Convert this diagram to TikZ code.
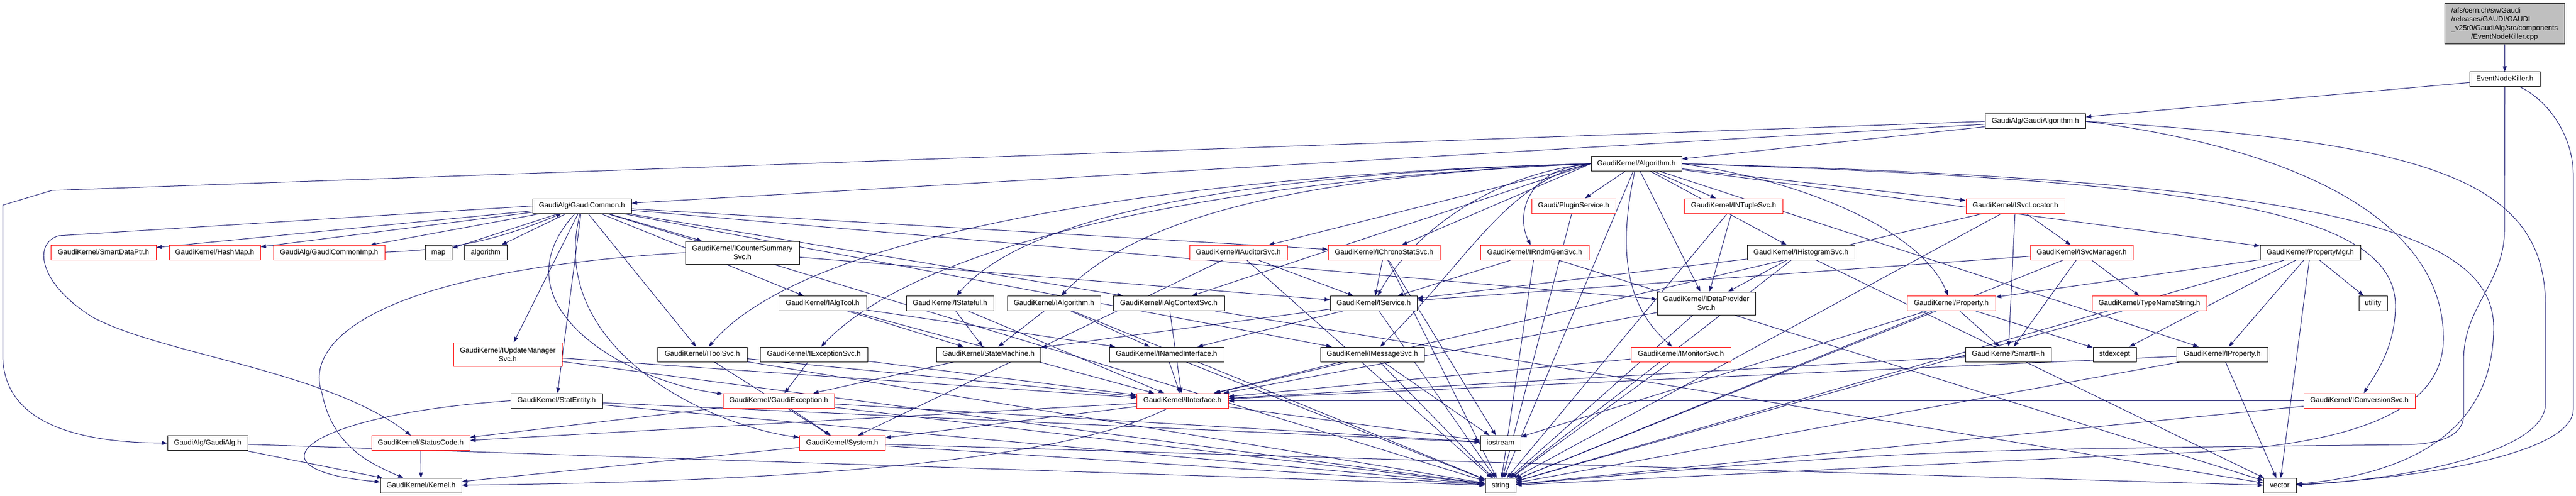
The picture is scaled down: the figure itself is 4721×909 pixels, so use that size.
\documentclass[tikz,border=0pt]{standalone}
\usepackage{fontspec}
\setmainfont{Liberation Sans}
\usepackage{tikz}
\usetikzlibrary{arrows.meta,backgrounds}
\definecolor{depblue}{HTML}{191970}
\definecolor{rootgray}{HTML}{BFBFBF}

\begin{document}
\begin{tikzpicture}[x=0.5pt,y=-0.5pt,
    box/.style={draw=black,fill=white,line width=0.5pt,inner sep=0pt,align=center,
      font=\fontsize{6.6}{8}\selectfont},
    hdr/.style={box,minimum height=13.5pt,text height=4.8pt,text depth=1.4pt},
    trunc/.style={hdr,draw=red},
    hdrtwo/.style={box,minimum height=21pt},
    trunctwo/.style={hdrtwo,draw=red},
    root/.style={box,fill=rootgray},
    dep/.style={draw=depblue,line width=0.5pt,-{Triangle[length=5pt,width=3.6pt,fill=depblue]}}]
  \useasboundingbox (0,0) rectangle (4721,909);

  % top of the graph
  \node[root,minimum width=110pt,minimum height=37pt] (cpp) at (4590,44)
    {\begin{tabular}{@{}l@{}}/afs/cern.ch/sw/Gaudi\\/releases/GAUDI/GAUDI\\\_v25r0/GaudiAlg/src/components\\
     \multicolumn{1}{@{}c@{}}{/EventNodeKiller.cpp}\end{tabular}};
  \node[hdr,minimum width=64.5pt] (enk) at (4590.5,145.5) {EventNodeKiller.h};
  \node[hdr,minimum width=92pt] (galgorithm) at (3730,222.5) {GaudiAlg/GaudiAlgorithm.h};
  \node[hdr,minimum width=83pt] (alg) at (2999,300) {GaudiKernel/Algorithm.h};
  \node[hdr,minimum width=90.5pt] (gcommon) at (1066.5,377.5) {GaudiAlg/GaudiCommon.h};
  \node[trunc,minimum width=77pt] (pluginsvc) at (2884,377.5) {Gaudi/PluginService.h};
  \node[trunc,minimum width=90pt] (intuplesvc) at (3177,377.5) {GaudiKernel/INTupleSvc.h};
  \node[trunc,minimum width=90.5pt] (isvclocator) at (3693.5,377.5) {GaudiKernel/ISvcLocator.h};

  \node[trunc,minimum width=96.5pt] (smartdataptr) at (189.5,463) {GaudiKernel/SmartDataPtr.h};
  \node[trunc,minimum width=83.5pt] (hashmap) at (393.5,463) {GaudiKernel/HashMap.h};
  \node[trunc,minimum width=102pt] (gcommonimp) at (603,463) {GaudiAlg/GaudiCommonImp.h};
  \node[hdr,minimum width=24.5pt] (stdmap) at (803.5,463) {map};
  \node[hdr,minimum width=39pt] (stdalgorithm) at (890,463) {algorithm};
  \node[hdrtwo,minimum width=104.5pt] (icountersvc) at (1360.5,463) {GaudiKernel/ICounterSummary\\Svc.h};
  \node[trunc,minimum width=89.5pt] (iauditorsvc) at (2269.5,463) {GaudiKernel/IAuditorSvc.h};
  \node[trunc,minimum width=102.5pt] (ichronostatsvc) at (2536.5,463) {GaudiKernel/IChronoStatSvc.h};
  \node[trunc,minimum width=99.5pt] (irndmgensvc) at (2812.5,463) {GaudiKernel/IRndmGenSvc.h};
  \node[hdr,minimum width=98.5pt] (ihistogramsvc) at (3300.5,463) {GaudiKernel/IHistogramSvc.h};
  \node[trunc,minimum width=94pt] (isvcmanager) at (3815,463) {GaudiKernel/ISvcManager.h};
  \node[hdr,minimum width=92pt] (propertymgr) at (4234,463) {GaudiKernel/PropertyMgr.h};

  \node[hdr,minimum width=80.5pt] (ialgtool) at (1507.5,556) {GaudiKernel/IAlgTool.h};
  \node[hdr,minimum width=80pt] (istateful) at (1741,556) {GaudiKernel/IStateful.h};
  \node[hdr,minimum width=85.5pt] (ialgorithm) at (1931.5,556) {GaudiKernel/IAlgorithm.h};
  \node[hdr,minimum width=102pt] (ialgcontextsvc) at (2142,556) {GaudiKernel/IAlgContextSvc.h};
  \node[hdr,minimum width=79.5pt] (iservice) at (2517.5,556) {GaudiKernel/IService.h};
  \node[hdrtwo,minimum width=90pt] (idataprovidersvc) at (3127,556) {GaudiKernel/IDataProvider\\Svc.h};
  \node[trunc,minimum width=81pt] (property) at (3576,556) {GaudiKernel/Property.h};
  \node[trunc,minimum width=105pt] (typenamestring) at (3939,556) {GaudiKernel/TypeNameString.h};
  \node[hdr,minimum width=26pt] (stdutility) at (4349,556) {utility};

  \node[trunctwo,minimum width=99.5pt,minimum height=21.5pt] (iupdatemgrsvc) at (930.5,649.5) {GaudiKernel/IUpdateManager\\Svc.h};
  \node[hdr,minimum width=82pt] (itoolsvc) at (1287,649.5) {GaudiKernel/IToolSvc.h};
  \node[hdr,minimum width=98.5pt] (iexceptionsvc) at (1491.5,649.5) {GaudiKernel/IExceptionSvc.h};
  \node[hdr,minimum width=95.5pt] (statemachine) at (1811.5,649.5) {GaudiKernel/StateMachine.h};
  \node[hdr,minimum width=105pt] (inamedinterface) at (2138,649.5) {GaudiKernel/INamedInterface.h};
  \node[hdr,minimum width=95pt] (imessagesvc) at (2515,649.5) {GaudiKernel/IMessageSvc.h};
  \node[trunc,minimum width=91.5pt] (imonitorsvc) at (3080.5,649.5) {GaudiKernel/IMonitorSvc.h};
  \node[hdr,minimum width=78.5pt] (smartif) at (3680.5,649.5) {GaudiKernel/SmartIF.h};
  \node[hdr,minimum width=39.5pt] (stdexcept) at (3875.5,649.5) {stdexcept};
  \node[hdr,minimum width=83.5pt] (iproperty) at (4072.5,649.5) {GaudiKernel/IProperty.h};

  \node[hdr,minimum width=84pt] (statentity) at (1020,734.5) {GaudiKernel/StatEntity.h};
  \node[trunc,minimum width=102pt] (gaudiexception) at (1427,734.5) {GaudiKernel/GaudiException.h};
  \node[trunc,minimum width=84pt] (iinterface) at (2167,734.5) {GaudiKernel/IInterface.h};
  \node[trunc,minimum width=102pt] (iconversionsvc) at (4324,734.5) {GaudiKernel/IConversionSvc.h};

  \node[hdr,minimum width=73.5pt] (gaudialg) at (380.5,812) {GaudiAlg/GaudiAlg.h};
  \node[trunc,minimum width=90pt] (statuscode) at (771,812) {GaudiKernel/StatusCode.h};
  \node[trunc,minimum width=78.5pt] (system) at (1543.5,812) {GaudiKernel/System.h};
  \node[hdr,minimum width=37pt] (stdiostream) at (2750,812) {iostream};

  \node[hdr,minimum width=74.5pt] (kernel) at (771.5,890) {GaudiKernel/Kernel.h};
  \node[hdr,minimum width=28pt] (stdstring) at (2750,890) {string};
  \node[hdr,minimum width=30pt] (stdvector) at (4178,890) {vector};

  \begin{pgfonlayer}{background}
  % straight dependencies
  \foreach \a/\b in {cpp/enk, enk/galgorithm, galgorithm/alg, galgorithm/gcommon,
      gcommon/smartdataptr, gcommon/hashmap, gcommon/gcommonimp, gcommon/stdmap,
      gcommon/stdalgorithm, gcommon/icountersvc, gcommon/iupdatemgrsvc, gcommon/statentity,
      gcommon/itoolsvc, gcommon/ialgtool, gcommon/ichronostatsvc, gcommon/idataprovidersvc,
      gcommon/ialgcontextsvc, gcommon/imessagesvc, gcommon/stdstring,
      alg/pluginsvc, alg/intuplesvc, alg/isvclocator, alg/ihistogramsvc, alg/propertymgr,
      alg/idataprovidersvc, alg/iproperty, alg/stdstring,
      icountersvc/iservice, iupdatemgrsvc/iinterface, iupdatemgrsvc/stdstring,
      statentity/stdstring, statentity/stdiostream,
      itoolsvc/system, itoolsvc/iinterface, itoolsvc/stdstring,
      iexceptionsvc/gaudiexception, iexceptionsvc/iinterface,
      gaudiexception/system, gaudiexception/statuscode, gaudiexception/stdstring,
      gaudiexception/stdiostream,
      statuscode/kernel, system/kernel, system/stdstring, system/stdvector,
      gaudialg/kernel, gaudialg/stdstring,
      ialgtool/statemachine, ialgtool/inamedinterface, ialgtool/iinterface,
      istateful/statemachine, istateful/iinterface,
      ialgorithm/statemachine, ialgorithm/inamedinterface, ialgorithm/stdstring,
      ialgcontextsvc/iinterface, ialgcontextsvc/stdvector,
      iauditorsvc/iservice, iauditorsvc/system, iauditorsvc/stdstring,
      ichronostatsvc/iservice, ichronostatsvc/stdiostream, ichronostatsvc/stdstring,
      irndmgensvc/iservice, irndmgensvc/stdstring, irndmgensvc/stdvector,
      iservice/inamedinterface, iservice/statemachine, iservice/stdstring,
      inamedinterface/iinterface, inamedinterface/stdstring,
      imessagesvc/iinterface, imessagesvc/stdiostream, imessagesvc/stdstring,
      imonitorsvc/iinterface, imonitorsvc/stdstring,
      idataprovidersvc/iinterface, idataprovidersvc/stdstring,
      intuplesvc/idataprovidersvc, intuplesvc/stdstring, pluginsvc/stdstring,
      ihistogramsvc/iservice, ihistogramsvc/idataprovidersvc, ihistogramsvc/stdstring,
      ihistogramsvc/stdvector,
      isvcmanager/iservice, isvcmanager/smartif, isvcmanager/typenamestring, isvcmanager/stdstring,
      isvclocator/iinterface, isvclocator/smartif, isvclocator/isvcmanager, isvclocator/stdstring,
      property/smartif, property/stdexcept, property/stdstring, property/stdiostream,
      typenamestring/stdstring, smartif/iinterface,
      propertymgr/property, propertymgr/stdexcept, propertymgr/iproperty,
      propertymgr/stdstring, propertymgr/stdutility, propertymgr/stdvector,
      iproperty/iinterface, iproperty/stdstring, iproperty/stdvector,
      iconversionsvc/iinterface, iconversionsvc/stdstring,
      iinterface/statuscode, iinterface/system, iinterface/stdiostream,
      statemachine/gaudiexception}
    \draw[dep] (\a) -- (\b);
  \foreach \b in {iauditorsvc,ichronostatsvc,ialgcontextsvc}
    \draw[dep] (alg.west) -- (\b);

  % routed ones
  \draw[dep] (galgorithm.west) -- (95,349) -- (5,376) -- (5,650)
    .. controls (5,770) and (130,811) .. (gaudialg.west);
  \draw[dep] (galgorithm.east) .. controls (4450,260) and (4665,330) .. (4665,560)
    -- (4665,740) .. controls (4665,830) and (4400,880) .. (stdvector);
  \draw[dep] (galgorithm.east) .. controls (4200,270) and (4478,400) .. (4478,620)
    .. controls (4478,760) and (4300,825) .. (3935,832) -- (stdstring);
  \draw[dep] (enk.south) -- (4590,420) .. controls (4590,520) and (4515,560) .. (4515,660)
    -- (4515,760) .. controls (4515,800) and (4470,815) .. (4400,815)
    .. controls (3500,825) .. (stdstring);
  \draw[dep] (enk) .. controls (4680,190) and (4716,260) .. (4716,320) -- (4716,750)
    .. controls (4716,830) and (4450,875) .. (stdvector);
  \draw[dep] (gcommonimp) to[bend right=10] (gcommon);
  \draw[dep] (gcommon.west) -- (108,432) .. controls (60,445) and (70,520) .. (171,582)
    .. controls (300,650) and (600,680) .. (statuscode);
  \draw[dep] (gcommon) .. controls (900,560) and (1150,700) .. (gaudiexception);
  \draw[dep] (gcommon) .. controls (1000,640) and (1300,780) .. (system);
  \draw[dep] (statentity.west) .. controls (560,760) and (440,860) .. (kernel);
  \draw[dep] (icountersvc.west) .. controls (650,500) and (560,640) .. (590,720)
    .. controls (610,820) and (680,850) .. (kernel);
  \draw[dep] (iinterface) .. controls (1900,870) and (1200,885) .. (kernel);
  \draw[dep] (alg.west) .. controls (2790,310) and (2780,400) .. (irndmgensvc);
  \draw[dep] (alg.west) .. controls (2720,320) and (2580,440) .. (iservice);
  \draw[dep] (alg.west) .. controls (2760,330) and (2690,480) .. (imessagesvc);
  \draw[dep] (alg.west) .. controls (2450,320) and (2100,380) .. (ialgorithm);
  \draw[dep] (alg.west) .. controls (2400,315) and (1900,370) .. (istateful);
  \draw[dep] (alg.west) .. controls (2300,315) and (1500,400) .. (itoolsvc);
  \draw[dep] (alg.west) .. controls (2300,325) and (1700,430) .. (iexceptionsvc);
  \draw[dep] (alg) .. controls (2960,480) and (2990,570) .. (imonitorsvc);
  \draw[dep] (alg.east) .. controls (3300,330) and (3520,420) .. (property);
  \draw[dep] (alg.east) .. controls (4000,330) and (4390,380) .. (4390,560)
    .. controls (4390,640) and (4350,690) .. (iconversionsvc);
  \draw[dep] (alg.east) .. controls (4250,330) and (4570,420) .. (4570,600)
    .. controls (4570,800) and (4400,870) .. (stdvector);
  \end{pgfonlayer}
\end{tikzpicture}
\end{document}
